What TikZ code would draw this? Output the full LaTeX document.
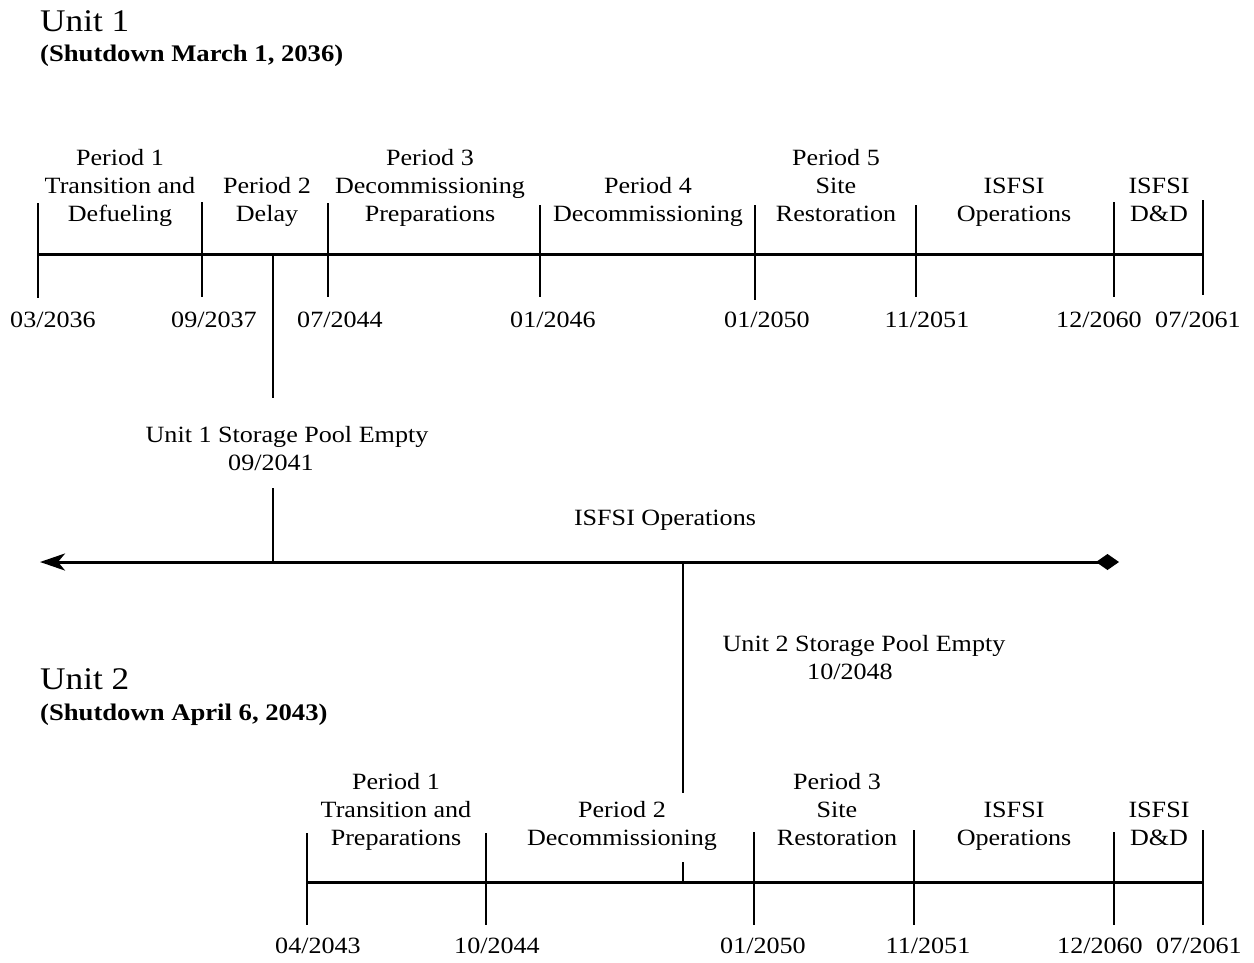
\documentclass[tikz,border=0pt]{standalone}
\usepackage{fontspec}
\setmainfont{Liberation Serif}[FakeStretch=1.12]
\usetikzlibrary{arrows.meta}
\begin{document}
\begin{tikzpicture}[x=1pt,y=-1pt,
  axis/.style={line width=3pt},
  tickline/.style={line width=2.6pt},
  conn/.style={line width=2.6pt},
  lbl/.style={font=\fontsize{23.3}{28}\selectfont, inner sep=0pt, anchor=base},
  ttl/.style={font=\fontsize{31.5}{34}\selectfont, inner sep=0pt, anchor=base west},
  sub/.style={font=\fontsize{23.8}{26}\selectfont\bfseries, inner sep=0pt, anchor=base west}]
\useasboundingbox (0,0) rectangle (1254,962);

% titles
\node[ttl] (t1) at (40,31) {Unit 1};
\node[sub] (s1) at (40,61) {(Shutdown March 1, 2036)};
\node[ttl] (t2) at (40,689) {Unit 2};
\node[sub] (s2) at (40,720) {(Shutdown April 6, 2043)};

% Unit 1 timeline
\foreach \n/\x/\t/\b in {a/38/203/298, b/202/202/297, c/328/203/297, d/540/205/297, e/755/205/300, f/916/205/297, g/1114/202/297, h/1203/200/295} {
  \coordinate (u1\n t) at (\x,\t);
  \coordinate (u1\n b) at (\x,\b);
  \coordinate (u1\n) at (\x,254);
  \draw[tickline] (u1\n t) -- (u1\n b);
}
\draw[axis] (u1a) -- (u1h);

\foreach \x/\y/\t [count=\i] in {
  120/165/Period 1, 120/193/Transition and, 120/221/Defueling,
  267/193/Period 2, 267/221/Delay,
  430/165/Period 3, 430/193/Decommissioning, 430/221/Preparations,
  648/193/Period 4, 648/221/Decommissioning,
  836/165/Period 5, 836/193/Site, 836/221/Restoration,
  1014/193/ISFSI, 1014/221/Operations,
  1159/193/ISFSI, 1159/221/D\&D} {
  \node[lbl] (u1l\i) at (\x,\y) {\t};
}
\foreach \x/\t [count=\i] in {53/03\slash 2036, 214/09\slash 2037, 340/07\slash 2044, 553/01\slash 2046, 767/01\slash 2050, 927/11\slash 2051, 1099/12\slash 2060, 1198/07\slash 2061} {
  \node[lbl] (u1d\i) at (\x,327) {\t};
}

% Unit 1 pool
\coordinate (p1) at (273,254);
\coordinate (p1a) at (273,398);
\coordinate (p1b) at (273,488);
\coordinate (j1) at (273,562);
\draw[conn] (p1) -- (p1a);
\node[lbl] (p1l1) at (287,442) {Unit 1 Storage Pool Empty};
\node[lbl] (p1l2) at (271,470) {09/2041};
\draw[conn] (p1b) -- (j1);

% ISFSI operations line
\coordinate (isL) at (40,562);
\coordinate (isR) at (1119,562);
\coordinate (j2) at (683,562);
\draw[axis, {Stealth[length=25pt,width=17pt,inset=7pt]}-{Diamond[length=23pt,width=16pt]}] (isL) -- (isR);
\node[lbl] (isl) at (665,525) {ISFSI Operations};

% Unit 2 pool
\coordinate (p2a) at (683,793);
\coordinate (p2b) at (683,862);
\draw[conn] (j2) -- (p2a);
\node[lbl] (p2l1) at (864,651) {Unit 2 Storage Pool Empty};
\node[lbl] (p2l2) at (850,679) {10/2048};

% Unit 2 timeline
\foreach \n/\x/\t/\b in {a/307/833/925, b/486/833/925, c/754/832/925, d/914/830/925, e/1114/832/925, f/1203/830/925} {
  \coordinate (u2\n t) at (\x,\t);
  \coordinate (u2\n b) at (\x,\b);
  \coordinate (u2\n) at (\x,882);
  \draw[tickline] (u2\n t) -- (u2\n b);
}
\draw[axis] (u2a) -- (u2f);
\coordinate (p2) at (683,882);
\draw[conn] (p2b) -- (p2);

\foreach \x/\y/\t [count=\i] in {
  396/789/Period 1, 396/817/Transition and, 396/845/Preparations,
  622/817/Period 2, 622/845/Decommissioning,
  837/789/Period 3, 837/817/Site, 837/845/Restoration,
  1014/817/ISFSI, 1014/845/Operations,
  1159/817/ISFSI, 1159/845/D\&D} {
  \node[lbl] (u2l\i) at (\x,\y) {\t};
}
\foreach \x/\t [count=\i] in {318/04\slash 2043, 497/10\slash 2044, 763/01\slash 2050, 928/11\slash 2051, 1100/12\slash 2060, 1199/07\slash 2061} {
  \node[lbl] (u2d\i) at (\x,953) {\t};
}
\end{tikzpicture}
\end{document}
